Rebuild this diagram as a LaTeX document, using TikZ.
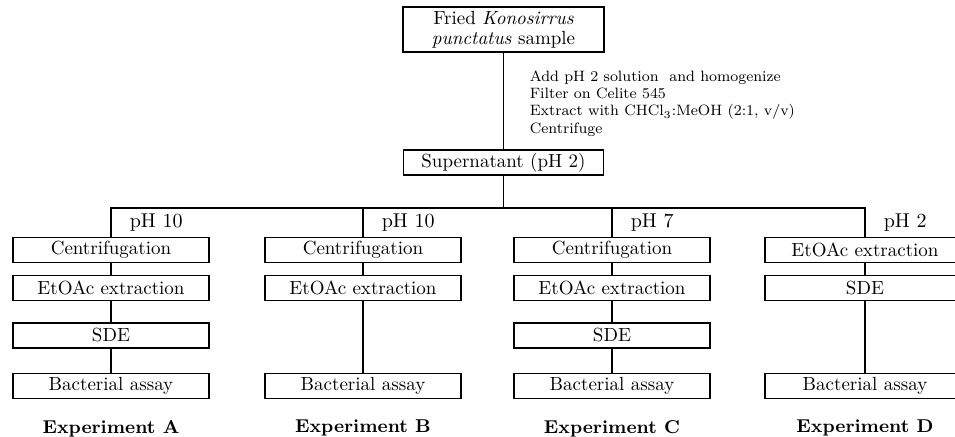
\documentclass[tikz,border=0pt]{standalone}
\usepackage{tikz}
\usetikzlibrary{positioning}

\begin{document}
\begin{tikzpicture}[x=0.5pt,y=-0.5pt,line width=0.85pt,
  stepbox/.style={draw,minimum width=98pt,minimum height=12.5pt,inner sep=1pt,font=\fontsize{9.5}{10}\selectfont},
  phlabel/.style={inner sep=0pt,font=\fontsize{10}{12}\selectfont},
  explabel/.style={inner sep=0pt,font=\fontsize{9.3}{11}\selectfont\bfseries}]
\useasboundingbox (0,0) rectangle (955,437);
\node[stepbox,minimum width=100.5pt,minimum height=22.5pt,align=center] (sample) at (503.5,29.5) {Fried \textit{Konosirrus}\\\textit{punctatus} sample};
\node[stepbox,minimum width=100pt] (super) at (503.5,162.5) {Supernatant (pH 2)};
\node[anchor=north west,inner sep=0pt,align=left,font=\fontsize{7.5}{8.6}\selectfont] (steps) at (529,70)
  {Add pH 2 solution\ \ and homogenize\\Filter on Celite 545\\Extract with CHCl\textsubscript{3}:MeOH (2:1, v/v)\\Centrifuge};
\coordinate (bus) at (503.5,208);
\draw (sample) -- (super);
\draw (super) -- (bus);
% Experiment A
\node[stepbox] (a1) at (111,250) {Centrifugation};
\node[stepbox] (a2) at (111,288) {EtOAc extraction};
\node[stepbox] (a3) at (111,335.5) {SDE};
\node[stepbox] (a4) at (111,386) {Bacterial assay};
% Experiment B
\node[stepbox] (b1) at (363,250) {Centrifugation};
\node[stepbox] (b2) at (363,288) {EtOAc extraction};
\node[stepbox] (b4) at (363,386) {Bacterial assay};
% Experiment C
\node[stepbox] (c1) at (612,250) {Centrifugation};
\node[stepbox] (c2) at (612,288) {EtOAc extraction};
\node[stepbox] (c3) at (612,335.5) {SDE};
\node[stepbox] (c4) at (612,386) {Bacterial assay};
% Experiment D
\node[stepbox,minimum width=100pt] (d1) at (865,250) {EtOAc extraction};
\node[stepbox,minimum width=100pt] (d2) at (865,288) {SDE};
\node[stepbox,minimum width=100pt] (d4) at (865,386) {Bacterial assay};
\draw (a1) |- (bus) -| (d1);
\foreach \n in {b1,c1}
  \draw (\n) -- (\n |- bus);
\draw (a1) -- (a2) -- (a3) -- (a4);
\draw (b1) -- (b2) -- (b4);
\draw (c1) -- (c2) -- (c3) -- (c4);
\draw (d1) -- (d2) -- (d4);
\node[phlabel,above right=2pt and 9pt of a1.north] (pha) {pH 10};
\node[phlabel,above right=2pt and 9pt of b1.north] (phb) {pH 10};
\node[phlabel,above right=2pt and 9pt of c1.north] (phc) {pH 7};
\node[phlabel,above right=2pt and 9pt of d1.north] (phd) {pH 2};
\node[explabel,below=10pt of a4] (expa) {Experiment A};
\node[explabel,below=10pt of b4] (expb) {Experiment B};
\node[explabel,below=10pt of c4] (expc) {Experiment C};
\node[explabel,below=10pt of d4] (expd) {Experiment D};
\end{tikzpicture}
\end{document}
